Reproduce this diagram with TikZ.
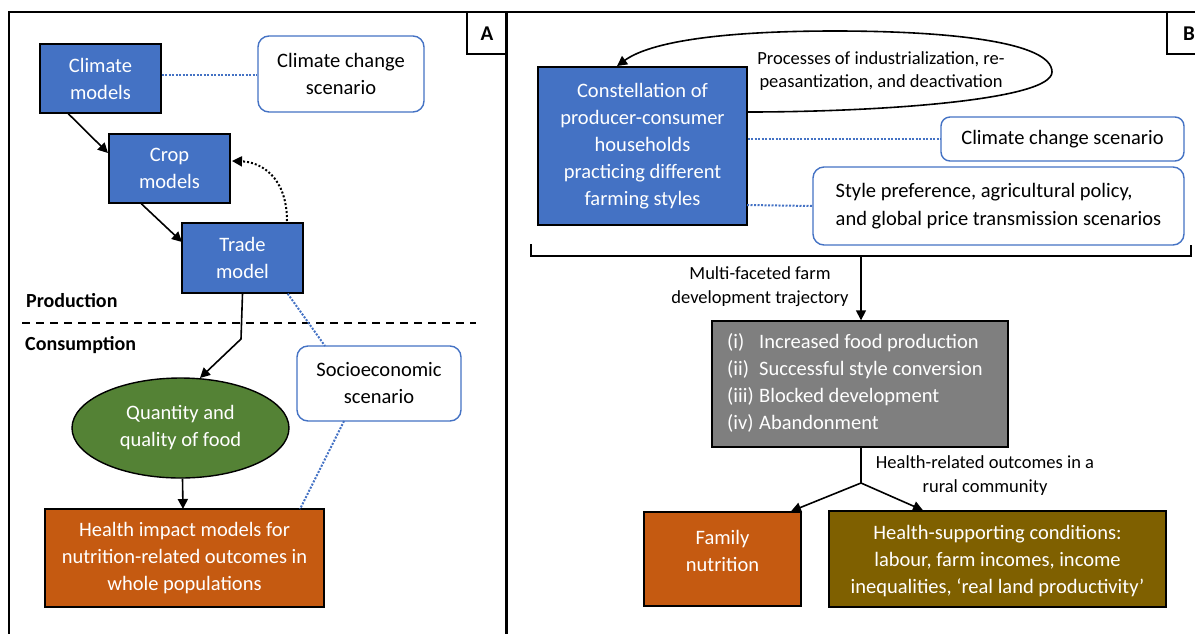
\documentclass[tikz,border=0pt]{standalone}
\usepackage{fontspec}
\setmainfont{Carlito}
\usetikzlibrary{shapes.geometric,arrows.meta}
\definecolor{mblue}{HTML}{4472C4}
\definecolor{fgreen}{HTML}{548235}
\definecolor{horange}{HTML}{C55A11}
\definecolor{colive}{HTML}{7F6000}
\definecolor{ogray}{HTML}{7F7F7F}

\begin{document}
\begin{tikzpicture}[x=1pt,y=-1pt,>={Triangle[length=10pt,width=10pt]},
    box/.style={draw=black,line width=1.4pt,text=white,align=center,inner sep=0pt,font=\fontsize{20.5}{27}\selectfont},
    scen/.style={draw=mblue,line width=1.4pt,rounded corners=11pt,fill=white,align=center,inner sep=0pt,font=\fontsize{20.5}{27}\selectfont},
    lbl/.style={align=center,inner sep=0pt,font=\fontsize{18.5}{24}\selectfont},
    link/.style={mblue,line width=2pt,dash pattern=on 2pt off 1.5pt},
    flow/.style={->,line width=1.6pt}]
    \useasboundingbox(0,0)rectangle(1195,633);
    \clip(0,0)rectangle(1195,633);
    % panel frames
    \draw[line width=1.4pt](9,700)--(9,12)--(506,12)--(506,700);
    \draw[line width=1.4pt](507,700)--(507,12)--(1210,12);
    \draw[line width=1.4pt](467,12)rectangle(506,54);
    \node[font=\fontsize{21}{24}\selectfont\bfseries] at(487,34) {A};
    \draw[line width=1.4pt](1167,12)rectangle(1210,54);
    \node[font=\fontsize{21}{24}\selectfont\bfseries] at(1189,34) {B};
    % panel A
    \node[box,fill=mblue,minimum width=121pt,minimum height=69pt](clim) at(100.5,78.5) {Climate\\models};
    \node[scen,minimum width=166pt,minimum height=76pt](ccsA) at(341,74) {Climate change\\scenario};
    \node[box,fill=mblue,minimum width=121pt,minimum height=69pt](crop) at(169.5,168.5) {Crop\\models};
    \node[box,fill=mblue,minimum width=121pt,minimum height=70pt](trade) at(242.5,258) {Trade\\model};
    \node[box,ellipse,fill=fgreen,minimum width=217pt,minimum height=100pt](food) at(180.5,428) {Quantity and\\quality of food};
    \node[box,fill=horange,minimum width=279pt,minimum height=98pt](health) at(184.5,558) {Health impact models for\\nutrition-related outcomes in\\whole populations};
    \node[scen,minimum width=164pt,minimum height=75pt](socio) at(379,383.5) {Socioeconomic\\scenario};
    \node[anchor=west,inner sep=0pt,font=\fontsize{20}{24}\selectfont\bfseries](prod) at(26,301) {Production};
    \node[anchor=west,inner sep=0pt,font=\fontsize{20}{24}\selectfont\bfseries](cons) at(25,345) {Consumption};
    \draw[line width=1.6pt,dash pattern=on 8pt off 6pt](22,323)--(476,323);
    \draw[link](clim.east|-0,75)--(ccsA.west|-0,75);
    \draw[link](trade.south east)++(-16,0)--(325,346);
    \draw[link](344,421)--(300,509);
    \draw[flow](clim.south west)++(29,0)--(108,153);
    \draw[flow](crop.south west)++(33,0)--(182,242);
    \draw[flow,line width=2pt,dotted](287,221)..controls(287,178)and(262,162)..(232,161);
    \draw[flow](trade.south)--(241,339)--(200,378);
    \draw[flow](food.south)++(2,0)--(183,509);
    % panel B
    \draw[->,line width=1.6pt](747,112)..controls(880,112)and(1052,100)..(1052,72)
        ..controls(1052,42)and(950,31)..(835,31)..controls(720,31)and(650,42)..(617,66);
    \node[box,fill=mblue,minimum width=209pt,minimum height=158pt](house) at(642.5,146)
        {Constellation of\\producer-consumer\\households\\practicing different\\farming styles};
    \node[lbl,font=\fontsize{18.5}{23}\selectfont](proc) at(881,71) {Processes of industrialization, re-\\peasantization, and deactivation};
    \node[scen,rounded corners=9pt,minimum width=243pt,minimum height=44pt](ccsB) at(1062.5,139) {Climate change scenario};
    \node[scen,align=left,minimum width=371pt,minimum height=78pt,font=\fontsize{20.5}{28}\selectfont](style) at(998.5,206)
        {Style preference, agricultural policy,\\and global price transmission scenarios};
    \draw[link](house.east|-ccsB.west)--(ccsB.west);
    \draw[link](747,205)--(style.west);
    \draw[line width=2pt](531,244)--(531,256)--(1191,256)--(1191,245);
    \node[box,fill=ogray,minimum width=296pt,minimum height=126pt](outcome) at(860,384) {};
    \node[anchor=west,align=left,inner sep=0pt,text=white,font=\fontsize{20.5}{27}\selectfont] at(727,383)
        {\makebox[32pt][l]{(i)}Increased food production\\\makebox[32pt][l]{(ii)}Successful style conversion\\
         \makebox[32pt][l]{(iii)}Blocked development\\\makebox[32pt][l]{(iv)}Abandonment};
    \draw[flow](861,256)--(outcome.north-|861,0);
    \node[lbl](traj) at(760,287) {Multi-faceted farm\\development trajectory};
    \node[box,fill=horange,minimum width=157pt,minimum height=94pt](family) at(722.5,559) {};
    \node[align=center,inner sep=0pt,text=white,font=\fontsize{20.5}{27}\selectfont] at(722.5,551) {Family\\nutrition};
    \node[box,fill=colive,minimum width=337pt,minimum height=96pt](cond) at(997.5,559) {};
    \node[align=center,inner sep=0pt,text=white,font=\fontsize{20.5}{27}\selectfont] at(997.5,561)
        {Health-supporting conditions:\\labour, farm incomes, income\\inequalities, `real land productivity'};
    \coordinate(fork) at(861,483);
    \draw[line width=1.6pt](outcome.south-|fork)--(fork);
    \draw[flow](fork)--(family.north-|791,0);
    \draw[flow](fork)--(cond.north-|923,0);
    \node[lbl](hro) at(985,476) {Health-related outcomes in a\\rural community};
\end{tikzpicture}
\end{document}
